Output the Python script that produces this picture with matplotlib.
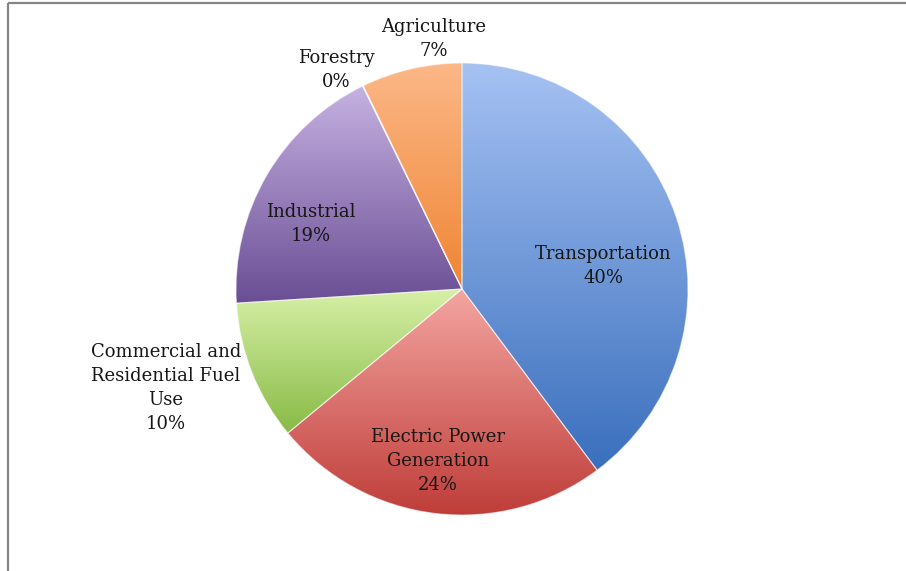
import matplotlib
matplotlib.use("Agg")
import matplotlib.pyplot as plt
import numpy as np
from matplotlib.colors import to_rgb

# ---- data ----
categories = ["Transportation", "Electric Power\nGeneration",
              "Commercial and\nResidential Fuel\nUse", "Industrial",
              "Forestry", "Agriculture"]
values = [39.8, 24.2, 10.0, 18.75, 0.05, 7.2]
pct_labels = ["40%", "24%", "10%", "19%", "0%", "7%"]

# gradient colours (top, bottom) per slice
grad_top = ["#a6c2f3", "#f4a5a1", "#d8f0a8", "#c6b2e2", "#8fd3e6", "#fcb887"]
grad_bot = ["#3a6fbd", "#bf3d39", "#88bb46", "#6a4e94", "#3b9ab5", "#ef8534"]

# label anchor positions in pixel coords (x, y from top)
label_pos = [(603, 266), (438, 461), (166, 388), (311, 224), (336, 70), (434, 39)]

W, H = 906, 571
fig = plt.figure(figsize=(W / 100, H / 100), dpi=100)
ax = fig.add_axes([0, 0, 1, 1])

cx, cy, R = 462, H - 289, 226
wedges, _ = ax.pie(values, startangle=90, counterclock=False,
                   center=(cx, cy), radius=R,
                   wedgeprops=dict(edgecolor=(1, 1, 1, 0.55), linewidth=0.8))

for w, ct, cb in zip(wedges, grad_top, grad_bot):
    w.set_facecolor("none")
    ext = w.get_path().get_extents()
    c0 = np.array(to_rgb(cb))
    c1 = np.array(to_rgb(ct))
    t = np.linspace(0, 1, 256)[:, None, None]
    img = c0 + (c1 - c0) * t
    im = ax.imshow(img, extent=[ext.x0, ext.x1, ext.y0, ext.y1],
                   origin="lower", aspect="auto", zorder=0.5,
                   interpolation="bilinear")
    im.set_clip_path(w)

for cat, pct, (x, y) in zip(categories, pct_labels, label_pos):
    ax.text(x, H - y, f"{cat}\n{pct}", ha="center", va="center",
            family="DejaVu Serif", fontsize=13, color="#161616",
            linespacing=1.45, zorder=5)

ax.set_xlim(0, W)
ax.set_ylim(0, H)
ax.set_aspect("auto")
ax.axis("off")

# outer frame (top and left visible)
ax.plot([8, W + 5], [H - 3, H - 3], color="#858585", lw=1.6,
        solid_capstyle="butt", clip_on=False)
ax.plot([8, 8], [H - 3, -5], color="#858585", lw=1.6,
        solid_capstyle="butt", clip_on=False)

fig.savefig("out.png", dpi=100, facecolor="white")
